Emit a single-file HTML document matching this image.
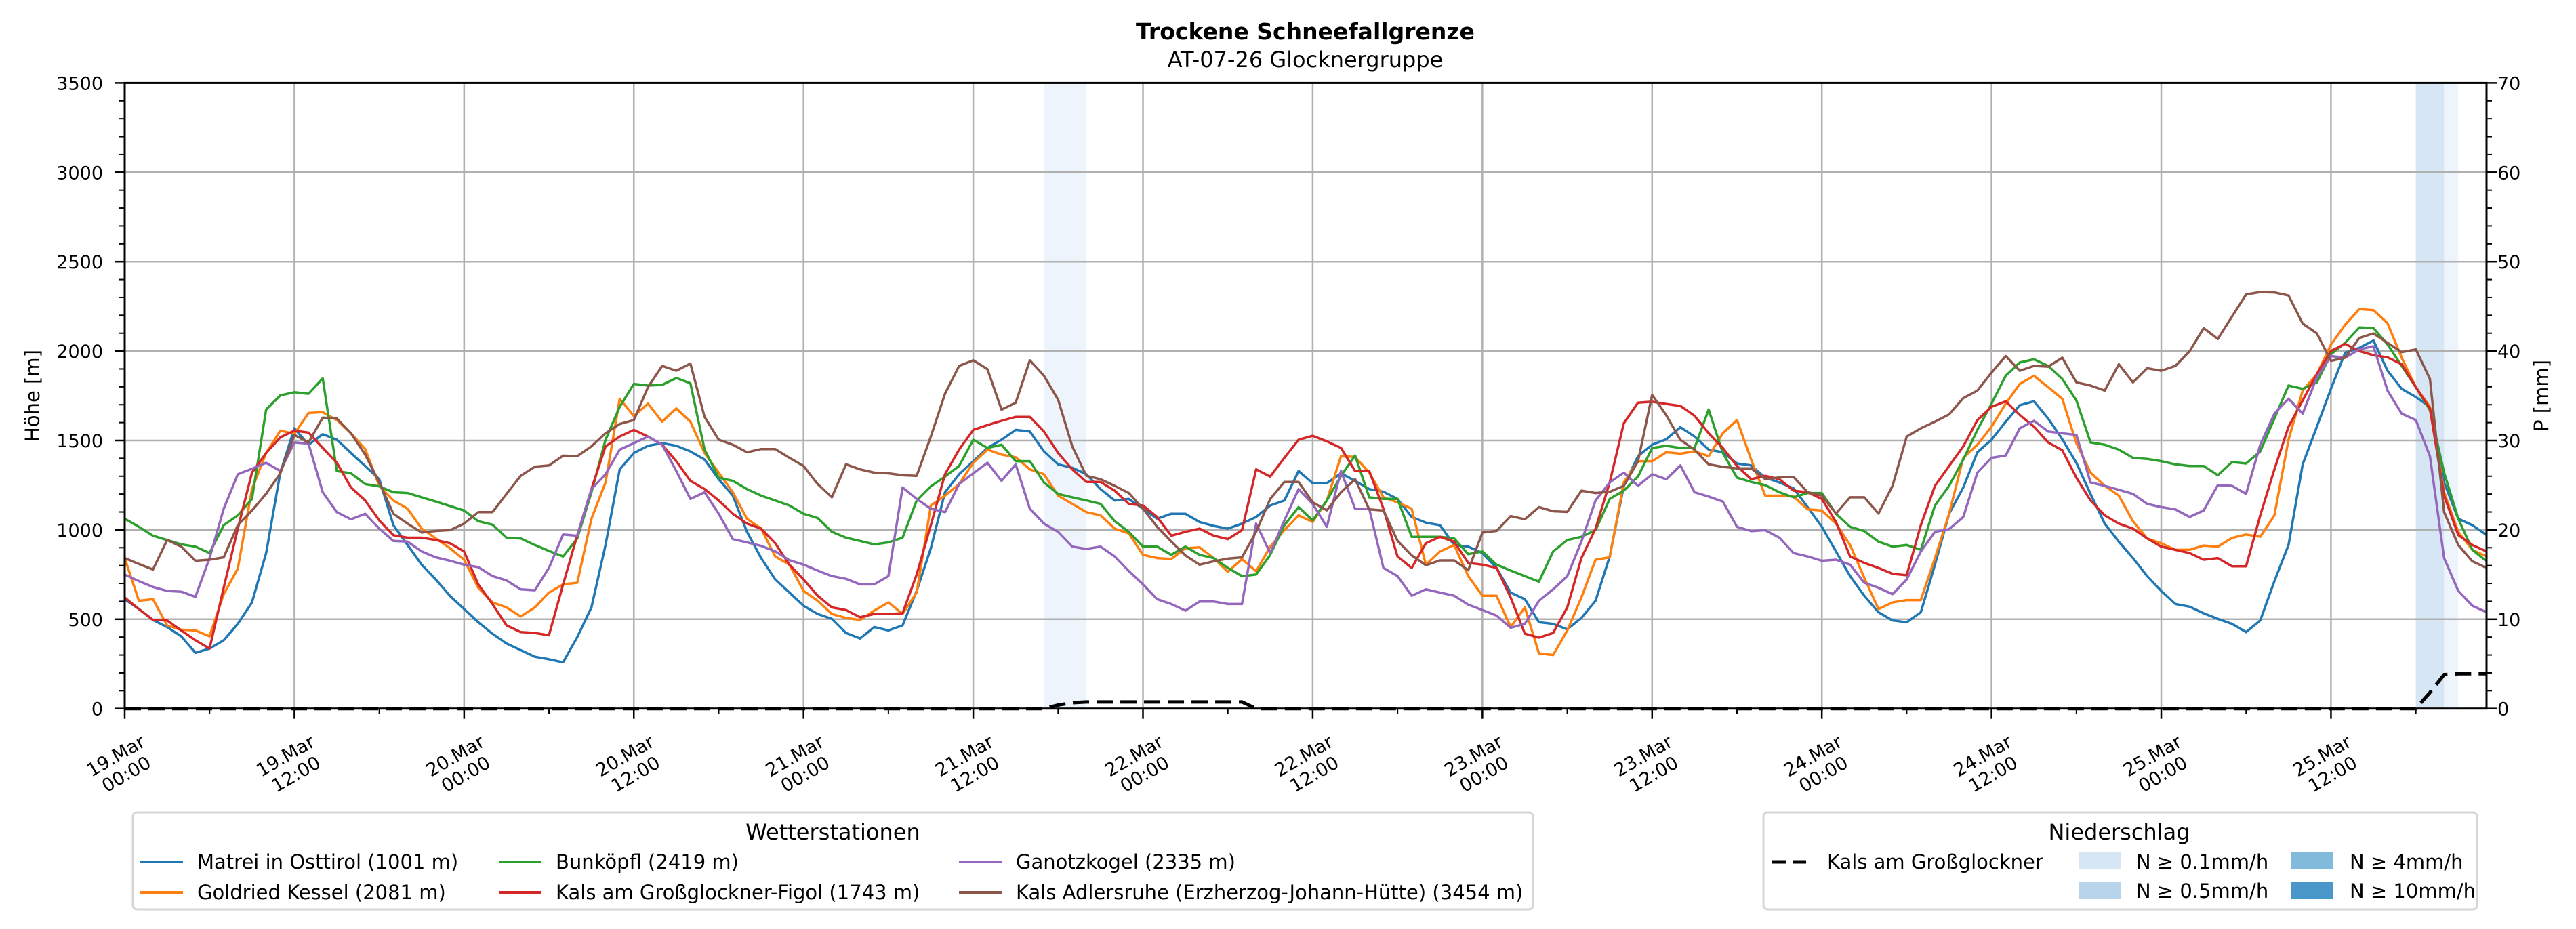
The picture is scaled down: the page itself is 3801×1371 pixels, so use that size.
<!DOCTYPE html>
<html><head><meta charset="utf-8"><title>Trockene Schneefallgrenze</title>
<style>
html,body{margin:0;padding:0;background:#fff;}
svg{display:block;font-family:"DejaVu Sans","Liberation Sans",sans-serif;}
</style></head>
<body>
<svg id="chart" width="3801" height="1371" viewBox="0 0 3801 1371" xmlns="http://www.w3.org/2000/svg">
<rect width="3801" height="1371" fill="#fff"/>
<text x="1926" y="58" text-anchor="middle" font-size="33" font-weight="bold">Trockene Schneefallgrenze</text>
<text x="1926" y="99" text-anchor="middle" font-size="32">AT-07-26 Glocknergruppe</text>
<g id="bands"></g>
<g id="grid"></g>
<g id="series"></g>
<g id="axes"></g>
<text transform="translate(58,584) rotate(-90)" text-anchor="middle" font-size="29">Höhe [m]</text>
<text transform="translate(3760,584) rotate(-90)" text-anchor="middle" font-size="29">P [mm]</text>

<g>
<rect x="196" y="1199" width="2066" height="143" rx="6" fill="#fff" stroke="#d5d5d5" stroke-width="3"/>
<text x="1229" y="1239" text-anchor="middle" font-size="32">Wetterstationen</text>
<g font-size="29">
<line x1="207" y1="1272" x2="270" y2="1272" stroke="#1f77b4" stroke-width="4"/>
<text x="291" y="1282">Matrei in Osttirol (1001 m)</text>
<line x1="207" y1="1317" x2="270" y2="1317" stroke="#ff7f0e" stroke-width="4"/>
<text x="291" y="1327">Goldried Kessel (2081 m)</text>
<line x1="736" y1="1272" x2="799" y2="1272" stroke="#2ca02c" stroke-width="4"/>
<text x="820" y="1282">Bunköpfl (2419 m)</text>
<line x1="736" y1="1317" x2="799" y2="1317" stroke="#d62728" stroke-width="4"/>
<text x="820" y="1327">Kals am Großglockner-Figol (1743 m)</text>
<line x1="1415" y1="1272" x2="1478" y2="1272" stroke="#9467bd" stroke-width="4"/>
<text x="1499" y="1282">Ganotzkogel (2335 m)</text>
<line x1="1415" y1="1317" x2="1478" y2="1317" stroke="#8c564b" stroke-width="4"/>
<text x="1499" y="1327">Kals Adlersruhe (Erzherzog-Johann-Hütte) (3454 m)</text>
</g>
</g>

<g>
<rect x="2602" y="1199" width="1053" height="143" rx="6" fill="#fff" stroke="#d5d5d5" stroke-width="3"/>
<text x="3127" y="1239" text-anchor="middle" font-size="32">Niederschlag</text>
<g font-size="29">
<line x1="2615" y1="1272" x2="2670" y2="1272" stroke="#000" stroke-width="5" stroke-dasharray="20,10"/>
<text x="2696" y="1282">Kals am Großglockner</text>
<rect x="3068" y="1258" width="61" height="25" fill="#d6e6f4"/>
<text x="3152" y="1282">N ≥ 0.1mm/h</text>
<rect x="3068" y="1301" width="61" height="25" fill="#b7d4ea"/>
<text x="3152" y="1325">N ≥ 0.5mm/h</text>
<rect x="3381" y="1258" width="62" height="25" fill="#82badb"/>
<text x="3467" y="1282">N ≥ 4mm/h</text>
<rect x="3381" y="1301" width="62" height="25" fill="#4a98c9"/>
<text x="3467" y="1325">N ≥ 10mm/h</text>
</g>
</g>
</svg>
<script>
const matrei=[612,557,496,456,404,312,336,382,474,594,870,1320,1568,1476,1535,1504,1430,1357,1283,1026,915,805,722,630,557,483,419,364,327,290,276,259,400,566,915,1338,1430,1470,1485,1470,1439,1393,
1283,1191,989,842,722,649,575,529,502,423,392,456,437,465,658,897,1210,1311,1384,1458,1504,1559,1550,1439,1366,1347,1311,1228,1164,1173,1118,1062,1090,1090,1044,1022,1007,1035,1072,1136,1164,1329,
1261,1261,1316,1274,1228,1213,1173,1072,1040,1026,915,906,870,787,649,612,483,474,443,507,603,851,1246,1412,1476,1507,1574,1522,1449,1434,1371,1360,1292,1265,1232,1127,1017,879,741,631,539,
493,483,539,805,1090,1237,1434,1504,1605,1697,1719,1623,1507,1375,1200,1035,934,842,741,658,585,570,533,502,474,428,493,713,915,1366,1577,1789,1991,2018,2059,1890,1789,1743,1688,1265,1062,1026,971];
const goldried=[842,603,612,465,441,437,404,640,783,1228,1430,1555,1537,1654,1658,1614,1540,1452,1246,1164,1118,1007,952,897,833,676,594,566,515,566,649,695,704,1062,1265,1733,1636,1706,1605,1679,1605,1430,
1320,1210,1062,1007,851,805,658,603,529,507,496,548,594,529,649,1136,1191,1256,1375,1449,1421,1406,1338,1311,1191,1145,1099,1081,1007,980,860,842,837,897,902,842,765,837,768,906,999,1081,
1044,1164,1412,1408,1320,1182,1154,1118,805,879,915,741,631,631,456,566,309,300,437,621,833,846,1265,1384,1384,1434,1426,1439,1412,1540,1614,1393,1191,1191,1186,1114,1108,1035,915,732,557,
594,607,607,842,1090,1403,1476,1577,1706,1816,1862,1798,1733,1485,1320,1246,1191,1048,952,925,888,888,912,906,955,974,961,1081,1504,1779,1871,2036,2147,2235,2229,2156,1963,1798,1688,1210,989,888,851];
const bunkoepfl=[1062,1017,967,943,919,906,870,1026,1081,1173,1673,1752,1770,1761,1847,1329,1316,1256,1243,1210,1206,1182,1158,1133,1108,1048,1029,956,952,915,882,851,952,1210,1504,1688,1816,1807,1811,1849,1820,1449,
1292,1274,1228,1191,1164,1136,1090,1066,989,956,938,919,930,956,1164,1243,1298,1357,1504,1458,1476,1384,1384,1265,1201,1182,1164,1145,1048,989,906,906,860,906,860,842,787,741,750,860,1026,1127,
1053,1164,1302,1416,1182,1173,1173,961,961,961,952,864,879,805,772,741,710,879,943,961,998,1173,1219,1298,1458,1470,1458,1458,1673,1430,1292,1268,1250,1210,1182,1206,1206,1090,1017,993,934,
906,915,888,1136,1246,1393,1559,1706,1862,1936,1954,1917,1844,1724,1489,1476,1449,1403,1397,1384,1366,1357,1357,1305,1379,1371,1439,1623,1807,1789,1825,1982,2046,2132,2129,2037,1917,1798,1670,1320,1062,888,824];
const kalsFigol=[621,557,496,493,437,382,336,676,1007,1320,1430,1518,1555,1544,1458,1375,1237,1164,1053,970,956,956,943,925,879,695,585,465,428,423,410,695,970,1228,1467,1522,1559,1522,1476,1384,1274,1228,
1164,1090,1035,1007,925,805,722,631,566,551,511,529,529,533,750,1026,1311,1449,1559,1586,1610,1632,1632,1550,1430,1338,1268,1268,1219,1145,1136,1072,967,989,1007,967,948,998,1338,1298,1403,1504,
1526,1495,1458,1329,1329,1118,851,787,925,961,934,815,805,787,621,419,397,423,566,842,1007,1265,1596,1711,1717,1704,1693,1638,1540,1458,1357,1283,1302,1283,1219,1210,1173,1044,851,815,787,
754,746,1026,1246,1357,1467,1614,1688,1719,1642,1577,1489,1445,1292,1164,1081,1035,1007,952,906,888,870,833,842,796,796,1081,1338,1577,1724,1871,2000,2040,2000,1977,1965,1926,1798,1679,1191,971,915,879];
const ganotzkogel=[750,713,680,658,654,625,842,1118,1311,1342,1375,1329,1489,1482,1210,1099,1059,1090,1007,938,934,879,846,827,805,791,741,717,667,662,787,974,967,1228,1311,1449,1485,1522,1476,1329,1173,1210,
1090,948,930,910,880,830,805,772,741,726,695,695,741,1237,1173,1118,1099,1256,1316,1375,1274,1366,1118,1035,989,906,893,906,851,769,695,612,585,548,599,599,585,585,1035,870,1053,1228,
1145,1017,1329,1118,1118,787,741,631,667,649,631,581,551,520,452,474,603,667,741,934,1164,1265,1320,1246,1311,1283,1360,1210,1186,1158,1017,993,998,956,870,851,827,833,805,704,676,
640,722,879,989,1004,1072,1320,1403,1416,1568,1610,1550,1540,1531,1265,1246,1224,1201,1145,1127,1114,1072,1108,1250,1246,1201,1476,1650,1733,1650,1853,1972,1963,2009,2027,1779,1650,1614,1412,842,658,575,539];
const adlersruhe=[842,809,778,943,906,827,833,846,1026,1108,1202,1316,1531,1489,1628,1623,1540,1421,1265,1090,1035,985,994,998,1035,1099,1099,1201,1302,1353,1360,1415,1412,1467,1540,1592,1614,1798,1917,1890,1930,1632,
1504,1476,1434,1452,1452,1403,1357,1256,1182,1366,1338,1320,1316,1305,1302,1522,1761,1917,1948,1899,1672,1711,1948,1862,1728,1467,1302,1283,1246,1206,1118,1017,934,857,805,824,839,846,989,1173,1268,1268,
1154,1109,1210,1283,1114,1108,939,857,802,829,829,774,985,994,1077,1059,1127,1104,1100,1219,1206,1213,1246,1383,1755,1641,1503,1448,1366,1352,1344,1344,1284,1293,1296,1210,1192,1091,1182,1182,1091,
1246,1522,1568,1605,1646,1737,1779,1880,1972,1890,1917,1913,1963,1825,1807,1779,1926,1825,1904,1890,1917,1999,2128,2068,2193,2317,2330,2328,2311,2154,2099,1945,1963,2073,2099,2046,1994,2009,1844,1099,915,824,787];
const precipKals=[0,0,0,0,0,0,0,0,0,0,0,0,0,0,0,0,0,0,0,0,0,0,0,0,0,0,0,0,0,0,0,0,0,0,0,0,0,0,0,0,0,0,
0,0,0,0,0,0,0,0,0,0,0,0,0,0,0,0,0,0,0,0,0,0,0,0,0.4,0.65,0.74,0.74,0.74,0.74,0.74,0.74,0.74,0.74,0.74,0.74,0.74,0.74,0,0,0,0,
0,0,0,0,0,0,0,0,0,0,0,0,0,0,0,0,0,0,0,0,0,0,0,0,0,0,0,0,0,0,0,0,0,0,0,0,0,0,0,0,0,
0,0,0,0,0,0,0,0,0,0,0,0,0,0,0,0,0,0,0,0,0,0,0,0,0,0,0,0,0,0,0,0,0,0,0,0,0,0,1.8,3.8,3.9,3.9,3.9];
const bandStart=[65,162,164];
const bandEnd=[68,164,165];
const bandLevel=[0,1,0];
const yTicksLeft=[0,500,1000,1500,2000,2500,3000,3500];
const yTicksRight=[0,10,20,30,40,50,60,70];
const xTickHours=[0,12,24,36,48,60,72,84,96,108,120,132,144,156];
const xTickDay=["19.Mar","19.Mar","20.Mar","20.Mar","21.Mar","21.Mar","22.Mar","22.Mar","23.Mar","23.Mar","24.Mar","24.Mar","25.Mar","25.Mar"];
const xTickTime=["00:00","12:00","00:00","12:00","00:00","12:00","00:00","12:00","00:00","12:00","00:00","12:00","00:00","12:00"];

const NS="http://www.w3.org/2000/svg";
const X0=184,X1=3669,Y0=1045.7,Y1=122.4,HMAX=167,YMAX=3500,PMAX=70;
function xs(h){return X0+(X1-X0)*h/HMAX;}
function yl(v){return Y0-(Y0-Y1)*v/YMAX;}
function yr(p){return Y0-(Y0-Y1)*p/PMAX;}
function mk(tag,attrs,parent){const e=document.createElementNS(NS,tag);for(const k in attrs)e.setAttribute(k,attrs[k]);parent.appendChild(e);return e;}
const bandColors=['#eef4fb','#d6e6f4','#b7d4ea','#82badb','#4a98c9'];
const gB=document.getElementById('bands');
for(let i=0;i<bandStart.length;i++){
  const r=mk('rect',{x:xs(bandStart[i]),y:Y1,width:xs(bandEnd[i])-xs(bandStart[i]),height:Y0-Y1,fill:bandColors[bandLevel[i]]},gB);
  
  
}
const gG=document.getElementById('grid');
yTicksLeft.forEach(v=>{const l=mk('line',{x1:X0,x2:X1,y1:yl(v),y2:yl(v),stroke:'#b0b0b0','stroke-width':2.5},gG);
  
  });
xTickHours.forEach(h=>{const l=mk('line',{x1:xs(h),x2:xs(h),y1:Y1,y2:Y0,stroke:'#b0b0b0','stroke-width':2.5},gG);
  
  });
const gS=document.getElementById('series');
const series=[[matrei,'#1f77b4','series-matrei'],[goldried,'#ff7f0e','series-goldried'],[bunkoepfl,'#2ca02c','series-bunkoepfl'],[kalsFigol,'#d62728','series-kals-figol'],[ganotzkogel,'#9467bd','series-ganotzkogel'],[adlersruhe,'#8c564b','series-adlersruhe']];
series.forEach(s=>{
  const pts=s[0].map((v,i)=>xs(i).toFixed(1)+','+yl(v).toFixed(1)).join(' ');
  const p=mk('polyline',{points:pts,fill:'none',stroke:s[1],'stroke-width':3.5,'stroke-linejoin':'round'},gS);
  
  
});
const pp=precipKals.map((v,i)=>xs(i).toFixed(1)+','+yr(v).toFixed(1)).join(' ');
const pl=mk('polyline',{points:pp,fill:'none',stroke:'#000','stroke-width':5,'stroke-dasharray':'24,11'},gS);



const gA=document.getElementById('axes');
const frame=mk('rect',{x:X0,y:Y1,width:X1-X0,height:Y0-Y1,fill:'none',stroke:'#000','stroke-width':3},gA);


for(let v=0;v<=YMAX;v+=100){const maj=v%500===0;
  const t=mk('line',{x1:X0,x2:X0-(maj?15:8),y1:yl(v),y2:yl(v),stroke:'#000','stroke-width':maj?2.5:2},gA);
  
  }
for(let p=0;p<=PMAX;p+=2){const maj=p%10===0;
  const t=mk('line',{x1:X1,x2:X1+(maj?15:8),y1:yr(p),y2:yr(p),stroke:'#000','stroke-width':maj?2.5:2},gA);
  
  }
for(let h=0;h<=HMAX;h+=6){const maj=h%12===0;
  const t=mk('line',{x1:xs(h),x2:xs(h),y1:Y0,y2:Y0+(maj?15:8),stroke:'#000','stroke-width':maj?2.5:2},gA);
  
  }
yTicksLeft.forEach(v=>{const t=mk('text',{x:152,y:yl(v)+10,'text-anchor':'end','font-size':27},gA);t.textContent=v;
  
  });
yTicksRight.forEach(p=>{const t=mk('text',{x:3685,y:yr(p)+10,'font-size':27},gA);t.textContent=p;
  
  });
xTickHours.forEach((h,i)=>{
  const g=mk('g',{transform:'translate('+(xs(h)-6)+',1128) rotate(-30)'},gA);
  
  
  const t1=mk('text',{x:0,y:-5,'text-anchor':'middle','font-size':27},g);t1.textContent=xTickDay[i];
  const t2=mk('text',{x:0,y:26,'text-anchor':'middle','font-size':27},g);t2.textContent=xTickTime[i];
});
</script>
</body></html>
